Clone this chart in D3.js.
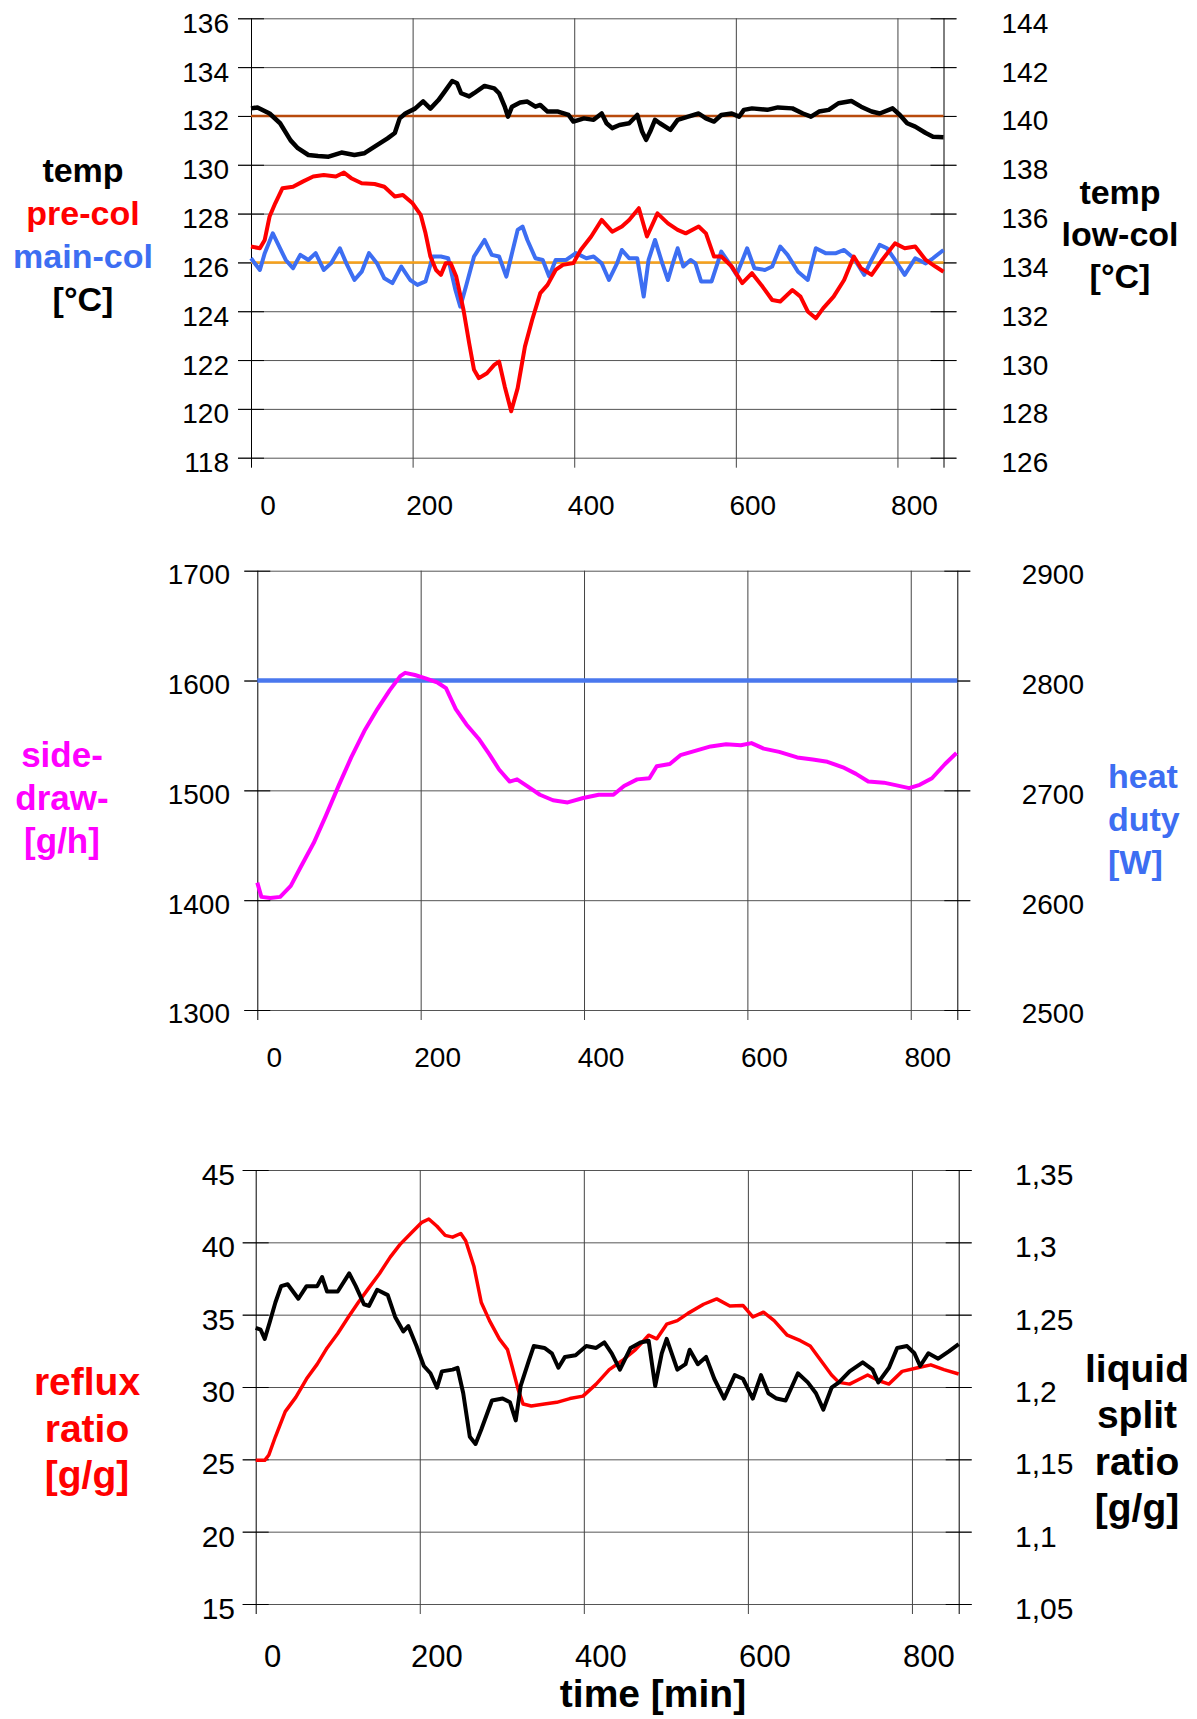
<!DOCTYPE html>
<html>
<head>
<meta charset="utf-8">
<script src="https://cdn.jsdelivr.net/npm/d3@7"></script>
<style>
  body { margin: 0; background: #fff; }
  svg { display: block; font-family: "Liberation Sans", Arial, sans-serif; }
</style>
</head>
<body>
<svg id="chart" width="1197" height="1719"></svg>
<script>
// ---- data ----
const timeTicks = [0, 200, 400, 600, 800];
const timeEnd = 857;

// panel 1: temperatures
const tempLeftTicks = [118, 120, 122, 124, 126, 128, 130, 132, 134, 136];
const tempRightTicks = [126, 128, 130, 132, 134, 136, 138, 140, 142, 144];
const lowColSetpoint = 140;   // right axis
const mainColSetpoint = 126;  // left axis

const lowColTime = [0, 8, 23, 36, 49, 58, 71, 83, 96, 112, 128, 140, 153, 169, 178, 184, 191, 203, 213, 222, 232, 241, 249, 255, 260, 270, 276, 289, 301, 307, 314, 318, 323, 333, 342, 352, 358, 367, 380, 393, 399, 412, 424, 434, 440, 447, 456, 468, 478, 484, 489, 494, 500, 506, 519, 528, 541, 554, 563, 573, 582, 595, 604, 610, 620, 639, 652, 670, 683, 693, 703, 715, 727, 743, 755, 768, 778, 794, 803, 812, 822, 835, 844, 857];
const lowColTemp = [140.31, 140.35, 140.1, 139.7, 139.0, 138.68, 138.4, 138.36, 138.33, 138.5, 138.4, 138.47, 138.74, 139.08, 139.3, 139.9, 140.1, 140.3, 140.6, 140.3, 140.65, 141.06, 141.43, 141.34, 140.93, 140.8, 140.93, 141.23, 141.13, 140.93, 140.38, 139.97, 140.38, 140.55, 140.59, 140.38, 140.45, 140.18, 140.18, 140.04, 139.77, 139.9, 139.84, 140.1, 139.7, 139.5, 139.63, 139.7, 140.04, 139.36, 139.02, 139.36, 139.84, 139.7, 139.43, 139.84, 139.97, 140.1, 139.9, 139.77, 140.04, 140.1, 139.97, 140.25, 140.31, 140.25, 140.35, 140.31, 140.1, 139.97, 140.18, 140.25, 140.52, 140.61, 140.38, 140.18, 140.1, 140.31, 140.04, 139.7, 139.56, 139.3, 139.15, 139.13];

const preColTime = [0, 11, 17, 23, 30, 39, 52, 64, 77, 90, 105, 115, 124, 137, 153, 165, 178, 188, 200, 210, 216, 222, 229, 235, 241, 247, 254, 263, 270, 276, 282, 292, 301, 307, 314, 322, 330, 339, 348, 358, 367, 377, 386, 399, 408, 421, 434, 447, 459, 468, 480, 490, 503, 516, 528, 538, 554, 563, 573, 582, 595, 608, 620, 633, 645, 655, 670, 680, 689, 699, 708, 721, 734, 746, 755, 768, 781, 797, 809, 822, 835, 847, 857];
const preColTemp = [126.65, 126.58, 126.92, 127.88, 128.42, 129.04, 129.1, 129.31, 129.52, 129.58, 129.52, 129.68, 129.45, 129.24, 129.21, 129.1, 128.7, 128.76, 128.42, 127.95, 127.19, 126.24, 125.69, 125.49, 125.97, 125.97, 125.42, 124.05, 122.69, 121.6, 121.26, 121.46, 121.8, 121.94, 120.92, 119.9, 120.85, 122.55, 123.65, 124.74, 125.08, 125.69, 125.9, 125.97, 126.51, 127.06, 127.74, 127.26, 127.47, 127.74, 128.22, 127.06, 128.01, 127.6, 127.33, 127.19, 127.47, 127.19, 126.24, 126.24, 125.83, 125.15, 125.56, 125.01, 124.46, 124.4, 124.87, 124.6, 123.99, 123.71, 124.12, 124.6, 125.28, 126.24, 125.76, 125.49, 126.1, 126.78, 126.58, 126.65, 126.1, 125.83, 125.62];

const mainColTime = [0, 11, 17, 27, 33, 43, 52, 61, 71, 80, 90, 99, 110, 118, 128, 137, 146, 156, 165, 175, 186, 197, 206, 216, 225, 235, 244, 253, 259, 266, 276, 289, 298, 307, 316, 323, 330, 336, 342, 352, 361, 369, 377, 390, 402, 415, 424, 434, 443, 453, 459, 468, 478, 486, 492, 500, 509, 516, 522, 528, 535, 544, 550, 557, 570, 582, 592, 601, 614, 623, 636, 645, 655, 664, 677, 689, 699, 711, 724, 734, 746, 759, 768, 778, 787, 797, 809, 822, 835, 844, 857];
const mainColTemp = [126.17, 125.69, 126.38, 127.19, 126.78, 126.1, 125.76, 126.31, 126.1, 126.38, 125.69, 125.96, 126.58, 125.96, 125.28, 125.62, 126.38, 125.96, 125.35, 125.15, 125.83, 125.28, 125.08, 125.22, 126.24, 126.24, 126.17, 124.87, 124.19, 125.01, 126.24, 126.92, 126.31, 126.24, 125.42, 126.38, 127.33, 127.47, 126.92, 126.17, 126.1, 125.42, 126.1, 126.1, 126.38, 126.17, 126.24, 125.96, 125.28, 125.96, 126.51, 126.17, 126.17, 124.6, 126.1, 126.92, 125.96, 125.28, 125.96, 126.58, 125.83, 126.1, 125.96, 125.22, 125.22, 126.44, 125.96, 125.49, 126.58, 125.76, 125.69, 125.83, 126.65, 126.31, 125.62, 125.28, 126.58, 126.38, 126.38, 126.51, 126.17, 125.49, 126.1, 126.72, 126.58, 126.1, 125.49, 126.17, 125.96, 126.17, 126.51];

// panel 2: side draw and heat duty
const sideDrawTicks = [1300, 1400, 1500, 1600, 1700];
const heatDutyTicks = [2500, 2600, 2700, 2800, 2900];
const sideDrawTime = [0, 5, 16, 28, 41, 53, 69, 84, 100, 115, 131, 147, 162, 175, 181, 193, 206, 221, 231, 243, 256, 271, 284, 296, 309, 318, 330, 346, 362, 380, 399, 418, 436, 449, 465, 480, 489, 505, 518, 536, 555, 574, 592, 605, 620, 639, 661, 680, 698, 717, 733, 748, 767, 780, 798, 811, 826, 842, 856];
const sideDrawFlow = [1416, 1403, 1402, 1403, 1413, 1430, 1452, 1477, 1505, 1530, 1554, 1574, 1591, 1604, 1607, 1605, 1602, 1598, 1593, 1574, 1560, 1547, 1533, 1519, 1508, 1510, 1504, 1496, 1491, 1489, 1493, 1496, 1496, 1504, 1510, 1511, 1522, 1524, 1532, 1536, 1540, 1542, 1541, 1543, 1538, 1535, 1530, 1528, 1526, 1521, 1515, 1508, 1507, 1505, 1502, 1505, 1511, 1524, 1534];
const heatDutyTime = [0, 857];
const heatDutyPower = [2800, 2800];

// panel 3: reflux ratio and liquid split ratio
const refluxTicks = [15, 20, 25, 30, 35, 40, 45];
const splitTicks = [1.05, 1.1, 1.15, 1.2, 1.25, 1.3, 1.35];
const refluxTime = [0, 11, 16, 24, 36, 49, 62, 75, 87, 100, 113, 125, 138, 151, 164, 176, 189, 202, 211, 221, 231, 240, 250, 256, 266, 275, 285, 297, 307, 313, 320, 326, 336, 352, 367, 383, 399, 415, 431, 447, 463, 479, 489, 501, 514, 527, 546, 562, 578, 594, 606, 619, 632, 648, 664, 676, 689, 702, 711, 724, 737, 746, 759, 772, 788, 807, 823, 839, 857];
const refluxRatio = [24.93, 24.93, 25.3, 26.56, 28.3, 29.3, 30.57, 31.58, 32.7, 33.7, 34.84, 35.84, 36.85, 37.85, 38.98, 39.86, 40.61, 41.36, 41.61, 41.11, 40.48, 40.36, 40.61, 40.11, 38.35, 35.84, 34.59, 33.33, 32.58, 31.33, 29.82, 28.82, 28.69, 28.82, 28.94, 29.2, 29.37, 30.2, 31.2, 31.83, 32.58, 33.58, 33.33, 34.34, 34.59, 35.09, 35.72, 36.09, 35.6, 35.64, 34.84, 35.17, 34.59, 33.58, 33.2, 32.83, 31.83, 30.83, 30.32, 30.2, 30.57, 30.83, 30.45, 30.2, 31.08, 31.33, 31.53, 31.2, 30.9];
const splitTime = [0, 6, 11, 17, 24, 31, 39, 52, 62, 75, 81, 87, 100, 114, 122, 132, 138, 148, 161, 170, 180, 186, 196, 205, 213, 221, 227, 240, 246, 253, 261, 268, 275, 288, 301, 310, 317, 323, 333, 339, 352, 361, 369, 377, 390, 403, 415, 425, 434, 444, 457, 469, 479, 487, 495, 501, 514, 524, 529, 539, 549, 559, 571, 584, 594, 606, 616, 625, 635, 646, 661, 673, 683, 692, 702, 711, 724, 740, 752, 759, 772, 782, 794, 803, 810, 820, 832, 845, 857];
const splitRatio = [1.2409, 1.2396, 1.2333, 1.2446, 1.2584, 1.2697, 1.271, 1.261, 1.2697, 1.2697, 1.276, 1.266, 1.266, 1.2785, 1.2697, 1.2572, 1.256, 1.2672, 1.2635, 1.2484, 1.2384, 1.2421, 1.2283, 1.2145, 1.2095, 1.1995, 1.2108, 1.212, 1.2133, 1.1957, 1.1656, 1.1606, 1.1706, 1.1907, 1.192, 1.1894, 1.1769, 1.2007, 1.2183, 1.2283, 1.227, 1.2233, 1.2133, 1.2208, 1.222, 1.2283, 1.227, 1.2308, 1.2233, 1.212, 1.227, 1.2308, 1.232, 1.2007, 1.2233, 1.2333, 1.212, 1.2158, 1.2258, 1.2158, 1.2208, 1.2057, 1.192, 1.2082, 1.2057, 1.192, 1.2082, 1.1957, 1.192, 1.1907, 1.2095, 1.2032, 1.1957, 1.1844, 1.1995, 1.2032, 1.2108, 1.217, 1.212, 1.2032, 1.2133, 1.227, 1.2283, 1.2233, 1.2145, 1.2233, 1.2196, 1.2246, 1.2296];

// ---- drawing ----
const svg = d3.select('#chart');
svg.append('rect').attr('width', 1197).attr('height', 1719).attr('fill', '#fff');

const intFmt = d3.format('d');
const commaFmt = d => d3.format('.2~f')(d).replace('.', ',');

function panel(o) {
  const g = svg.append('g').attr('transform', `translate(${o.left},${o.top})`);
  const x = d3.scaleLinear().domain([0, timeEnd]).range([0, o.w]);
  const yL = d3.scaleLinear().domain(o.lDomain).range([o.h, 0]);
  const yR = d3.scaleLinear().domain(o.rDomain).range([o.h, 0]);

  // horizontal grid lines, sticking out on both sides
  g.append('g').attr('transform', 'translate(-13,0)')
    .call(d3.axisLeft(yL).tickValues(o.lTicks).tickSize(-(o.w + 26)).tickFormat(''))
    .call(a => a.select('.domain').remove())
    .selectAll('line').attr('stroke', '#555');

  // vertical grid lines, poking below the bottom
  g.append('g').attr('transform', `translate(0,${o.h + 10})`)
    .call(d3.axisBottom(x).tickValues(timeTicks.concat([timeEnd])).tickSize(-(o.h + 10)).tickFormat(''))
    .call(a => a.select('.domain').remove())
    .selectAll('line').attr('stroke', d => (d === 0 || d === timeEnd) ? '#000' : '#444');

  // short black ticks across left and right edge
  g.append('g').attr('transform', 'translate(-13,0)')
    .call(d3.axisLeft(yL).tickValues(o.lTicks).tickSize(-26).tickFormat(''))
    .call(a => a.select('.domain').remove());
  g.append('g').attr('transform', `translate(${o.w - 13},0)`)
    .call(d3.axisRight(yL).tickValues(o.lTicks).tickSize(26).tickFormat(''))
    .call(a => a.select('.domain').remove());

  // tick labels
  g.append('g')
    .call(d3.axisLeft(yL).tickValues(o.lTicks).tickSize(0).tickPadding(o.lPad).tickFormat(intFmt))
    .call(a => a.select('.domain').remove())
    .selectAll('text').attr('y', o.yShift).attr('font-size', o.fs)
    .attr('font-family', '"Liberation Sans", Arial, sans-serif');
  g.append('g').attr('transform', `translate(${o.w},0)`)
    .call(d3.axisRight(yR).tickValues(o.rTicks).tickSize(0).tickPadding(o.rPad).tickFormat(o.rFmt || intFmt))
    .call(a => a.select('.domain').remove())
    .selectAll('text').attr('y', o.yShift).attr('font-size', o.fs)
    .attr('font-family', '"Liberation Sans", Arial, sans-serif');
  g.append('g').attr('transform', `translate(0,${o.h})`)
    .call(d3.axisBottom(x).tickValues(timeTicks).tickSize(0).tickPadding(o.bPad).tickFormat(intFmt))
    .call(a => a.select('.domain').remove())
    .selectAll('text').attr('x', 16.5).attr('font-size', o.bfs || o.fs)
    .attr('font-family', '"Liberation Sans", Arial, sans-serif');

  // series
  o.series.forEach(s => {
    const y = s.axis === 'right' ? yR : yL;
    g.append('path')
      .datum(d3.zip(s.t, s.v))
      .attr('fill', 'none')
      .attr('stroke', s.color)
      .attr('stroke-width', s.width)
      .attr('stroke-linejoin', 'round')
      .attr('d', d3.line().x(d => x(d[0])).y(d => y(d[1])));
  });
}

function title(x, baselines, lines, size, anchor) {
  lines.forEach((l, i) => {
    svg.append('text')
      .attr('x', x).attr('y', baselines[i])
      .attr('text-anchor', anchor || 'middle')
      .attr('font-size', size).attr('font-weight', 'bold')
      .attr('fill', l[1])
      .text(l[0]);
  });
}

panel({
  left: 251, top: 18.3, w: 692.5, h: 439.4,
  lDomain: [118, 136], rDomain: [126, 144],
  lTicks: tempLeftTicks, rTicks: tempRightTicks,
  lPad: 22, rPad: 58, bPad: 37, yShift: 5, fs: 28,
  series: [
    { t: [0, timeEnd], v: [lowColSetpoint, lowColSetpoint], axis: 'right', color: '#b84a0c', width: 2.5 },
    { t: [0, timeEnd], v: [mainColSetpoint, mainColSetpoint], color: '#f7a11a', width: 2.5 },
    { t: mainColTime, v: mainColTemp, color: '#3d6ef2', width: 4 },
    { t: preColTime, v: preColTemp, color: '#ff0000', width: 4 },
    { t: lowColTime, v: lowColTemp, axis: 'right', color: '#000', width: 4.5 }
  ]
});

panel({
  left: 257.3, top: 570.7, w: 700, h: 439.3,
  lDomain: [1300, 1700], rDomain: [2500, 2900],
  lTicks: sideDrawTicks, rTicks: heatDutyTicks,
  lPad: 27.3, rPad: 64.4, bPad: 37, yShift: 4, fs: 28,
  series: [
    { t: heatDutyTime, v: heatDutyPower, axis: 'right', color: '#4a78ee', width: 4.5 },
    { t: sideDrawTime, v: sideDrawFlow, color: '#ff00ff', width: 4 }
  ]
});

panel({
  left: 255.7, top: 1170, w: 703, h: 434,
  lDomain: [15, 45], rDomain: [1.05, 1.35],
  lTicks: refluxTicks, rTicks: splitTicks, rFmt: commaFmt,
  lPad: 20.7, rPad: 56.3, bPad: 40.5, yShift: 5, fs: 30, bfs: 31,
  series: [
    { t: refluxTime, v: refluxRatio, color: '#ff0000', width: 3.5 },
    { t: splitTime, v: splitRatio, axis: 'right', color: '#000', width: 4 }
  ]
});

// axis titles
title(83, [182, 225, 268, 311], [['temp', '#000'], ['pre-col', '#ff0000'], ['main-col', '#3d6ef2'], ['[°C]', '#000']], 34);
title(1120, [204, 246, 288], [['temp', '#000'], ['low-col', '#000'], ['[°C]', '#000']], 34);
title(62, [767, 810, 853], [['side-', '#ff00ff'], ['draw-', '#ff00ff'], ['[g/h]', '#ff00ff']], 35);
title(1108, [788, 831, 874], [['heat', '#3d6ef2'], ['duty', '#3d6ef2'], ['[W]', '#3d6ef2']], 34, 'start');
title(87, [1395, 1442, 1488], [['reflux', '#ff0000'], ['ratio', '#ff0000'], ['[g/g]', '#ff0000']], 39);
title(1137, [1382, 1428, 1475, 1521], [['liquid', '#000'], ['split', '#000'], ['ratio', '#000'], ['[g/g]', '#000']], 39);
title(653, [1707], [['time [min]', '#000']], 39);
</script>
</body>
</html>
